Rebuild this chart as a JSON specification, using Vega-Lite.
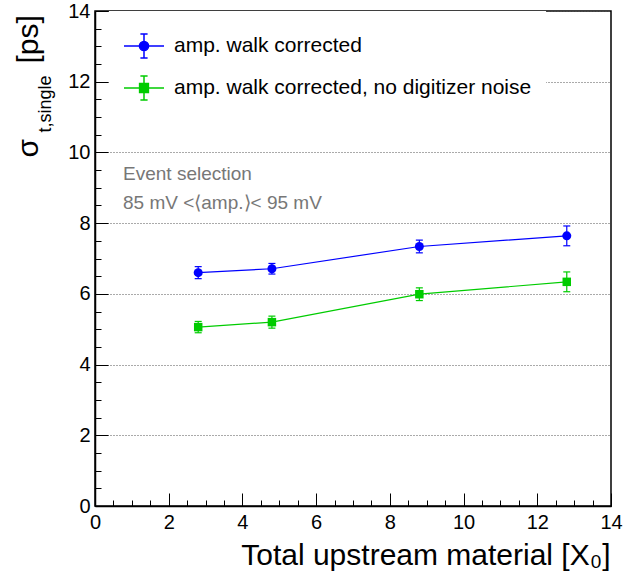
{
  "$schema": "https://vega.github.io/schema/vega-lite/v6.json",
  "width": 516,
  "height": 495,
  "autosize": {"type": "none"},
  "padding": {"left": 95, "top": 11, "right": 27, "bottom": 72},
  "background": "white",
  "config": {
    "view": {"stroke": "black", "strokeWidth": 1.5},
    "font": "Liberation Sans",
    "axis": {
      "labelFont": "Liberation Sans",
      "titleFont": "Liberation Sans",
      "labelColor": "black",
      "titleColor": "black",
      "tickColor": "black",
      "domainColor": "black",
      "labelFlush": false,
      "labelOverlap": false,
      "titleFontWeight": "normal"
    }
  },
  "data": {
    "values": [
      {"s": "amp. walk corrected", "x": 2.8, "y": 6.60, "lo": 6.43, "hi": 6.77},
      {"s": "amp. walk corrected", "x": 4.8, "y": 6.71, "lo": 6.56, "hi": 6.86},
      {"s": "amp. walk corrected", "x": 8.8, "y": 7.34, "lo": 7.16, "hi": 7.52},
      {"s": "amp. walk corrected", "x": 12.8, "y": 7.64, "lo": 7.36, "hi": 7.92},
      {"s": "amp. walk corrected, no digitizer noise", "x": 2.8, "y": 5.06, "lo": 4.90, "hi": 5.22},
      {"s": "amp. walk corrected, no digitizer noise", "x": 4.8, "y": 5.20, "lo": 5.03, "hi": 5.37},
      {"s": "amp. walk corrected, no digitizer noise", "x": 8.8, "y": 5.99, "lo": 5.81, "hi": 6.17},
      {"s": "amp. walk corrected, no digitizer noise", "x": 12.8, "y": 6.34, "lo": 6.06, "hi": 6.62}
    ]
  },
  "layer": [
    {
      "mark": {"type": "line", "strokeWidth": 1.2},
      "encoding": {
        "x": {
          "field": "x", "type": "quantitative",
          "scale": {"domain": [0, 14], "nice": false, "zero": false},
          "axis": {
            "orient": "bottom", "values": [0, 2, 4, 6, 8, 10, 12, 14],
            "tickSize": -13, "tickWidth": 1, "labelPadding": 19, "labelFontSize": 20,
            "domainWidth": 1.5, "grid": false,
            "title": "Total upstream material [X₀]", "titleFontSize": 30,
            "titleX": 515, "titleY": 58, "titleAlign": "right", "titleBaseline": "alphabetic"
          }
        },
        "y": {
          "field": "y", "type": "quantitative",
          "scale": {"domain": [0, 14], "nice": false, "zero": false},
          "axis": {
            "orient": "left", "values": [0, 2, 4, 6, 8, 10, 12, 14],
            "tickSize": -13, "tickWidth": 1, "labelPadding": 18, "labelFontSize": 20,
            "domainWidth": 1.5, "grid": true, "gridDash": [1, 2], "gridColor": "#555555", "gridWidth": 1,
            "title": "σ", "titleFontSize": 30, "titleAngle": -90,
            "titleX": -58, "titleY": 146, "titleAlign": "left", "titleBaseline": "alphabetic"
          }
        },
        "color": {"field": "s", "type": "nominal"}
      }
    },
    {
      "mark": {"type": "rule", "strokeWidth": 1.2},
      "encoding": {
        "x": {
          "field": "x", "type": "quantitative",
          "axis": {
            "orient": "bottom",
            "values": [0, 0.5, 1, 1.5, 2, 2.5, 3, 3.5, 4, 4.5, 5, 5.5, 6, 6.5, 7, 7.5, 8, 8.5, 9, 9.5, 10, 10.5, 11, 11.5, 12, 12.5, 13, 13.5, 14],
            "tickSize": -6, "tickWidth": 1, "labels": false, "domain": false, "grid": false, "title": null
          }
        },
        "y": {
          "field": "lo", "type": "quantitative",
          "axis": {
            "orient": "left",
            "values": [0, 0.5, 1, 1.5, 2, 2.5, 3, 3.5, 4, 4.5, 5, 5.5, 6, 6.5, 7, 7.5, 8, 8.5, 9, 9.5, 10, 10.5, 11, 11.5, 12, 12.5, 13, 13.5, 14],
            "tickSize": -6, "tickWidth": 1, "labels": false, "domain": false, "grid": false,
            "title": "t,single", "titleFontSize": 18, "titleAngle": -90,
            "titleX": -45, "titleY": 121, "titleAlign": "left", "titleBaseline": "alphabetic"
          }
        },
        "y2": {"field": "hi"},
        "color": {"field": "s", "type": "nominal"}
      }
    },
    {
      "mark": {"type": "tick", "orient": "horizontal", "size": 7, "thickness": 1.2, "opacity": 1},
      "encoding": {
        "x": {"field": "x", "type": "quantitative", "axis": null},
        "y": {"field": "lo", "type": "quantitative", "axis": null},
        "color": {"field": "s", "type": "nominal"}
      }
    },
    {
      "mark": {"type": "tick", "orient": "horizontal", "size": 7, "thickness": 1.2, "opacity": 1},
      "encoding": {
        "x": {"field": "x", "type": "quantitative", "axis": null},
        "y": {"field": "hi", "type": "quantitative", "axis": null},
        "color": {"field": "s", "type": "nominal"}
      }
    },
    {
      "transform": [{"filter": "datum.s === 'amp. walk corrected'"}],
      "mark": {"type": "point", "shape": "circle", "filled": true, "size": 81, "opacity": 1},
      "encoding": {
        "x": {"field": "x", "type": "quantitative", "axis": null},
        "y": {
          "field": "y", "type": "quantitative",
          "axis": {
            "orient": "left", "ticks": false, "labels": false, "domain": false, "grid": false,
            "title": "[ps]", "titleFontSize": 30, "titleAngle": -90,
            "titleX": -58, "titleY": 52, "titleAlign": "left", "titleBaseline": "alphabetic"
          }
        },
        "color": {"field": "s", "type": "nominal"}
      }
    },
    {
      "transform": [{"filter": "datum.s !== 'amp. walk corrected'"}],
      "mark": {"type": "point", "shape": "square", "filled": true, "size": 72, "opacity": 1},
      "encoding": {
        "x": {"field": "x", "type": "quantitative", "axis": null},
        "y": {"field": "y", "type": "quantitative", "axis": null},
        "color": {"field": "s", "type": "nominal"}
      }
    },
    {
      "mark": {"type": "point", "filled": true, "opacity": 0},
      "encoding": {
        "x": {"field": "x", "type": "quantitative", "axis": null},
        "y": {"field": "y", "type": "quantitative", "axis": null},
        "color": {
          "field": "s", "type": "nominal",
          "scale": {"domain": ["amp. walk corrected", "amp. walk corrected, no digitizer noise"], "range": ["#0000ff", "#00cc00"]},
          "legend": {
            "title": null, "orient": "none", "legendX": 14, "legendY": 0, "padding": 14,
            "fillColor": "white", "symbolSize": 1600, "symbolStrokeWidth": 1.5,
            "labelFontSize": 21, "labelFont": "Liberation Sans", "labelColor": "black",
            "labelOffset": 9, "rowPadding": 6, "labelLimit": 600, "symbolOpacity": 1,
            "encode": {"symbols": {"update": {"stroke": {"signal": "scale('color', datum.value)"}, "fill": {"signal": "scale('color', datum.value)"}, "opacity": {"value": 1}}}}
          }
        },
        "shape": {
          "field": "s", "type": "nominal",
          "scale": {
            "domain": ["amp. walk corrected", "amp. walk corrected, no digitizer noise"],
            "range": [
              "M-1,0L1,0M0,-0.6L0,0.6M-0.18,-0.6L0.18,-0.6M-0.18,0.6L0.18,0.6M-0.23,0A0.23,0.23,0,1,1,0.23,0A0.23,0.23,0,1,1,-0.23,0Z",
              "M-1,0L1,0M0,-0.6L0,0.6M-0.18,-0.6L0.18,-0.6M-0.18,0.6L0.18,0.6M-0.22,-0.22L0.22,-0.22L0.22,0.22L-0.22,0.22Z"
            ]
          },
          "legend": {
            "title": null, "orient": "none", "legendX": 14, "legendY": 0, "padding": 14,
            "fillColor": "white", "symbolSize": 1600, "symbolStrokeWidth": 1.5,
            "labelFontSize": 21, "labelFont": "Liberation Sans", "labelColor": "black",
            "labelOffset": 9, "rowPadding": 6, "labelLimit": 600, "symbolOpacity": 1,
            "encode": {"symbols": {"update": {"stroke": {"signal": "scale('color', datum.value)"}, "fill": {"signal": "scale('color', datum.value)"}, "opacity": {"value": 1}}}}
          }
        }
      }
    },
    {
      "data": {"values": [{}]},
      "mark": {"type": "text", "align": "left", "baseline": "middle", "fontSize": 19, "color": "#777777", "lineHeight": 29, "font": "Liberation Sans"},
      "encoding": {
        "x": {"datum": 0.76, "type": "quantitative", "axis": null},
        "y": {"datum": 9.39, "type": "quantitative", "axis": null},
        "text": {"value": ["Event selection", "85 mV <⟨amp.⟩< 95 mV"]}
      }
    }
  ],
  "resolve": {"axis": {"x": "independent", "y": "independent"}}
}
